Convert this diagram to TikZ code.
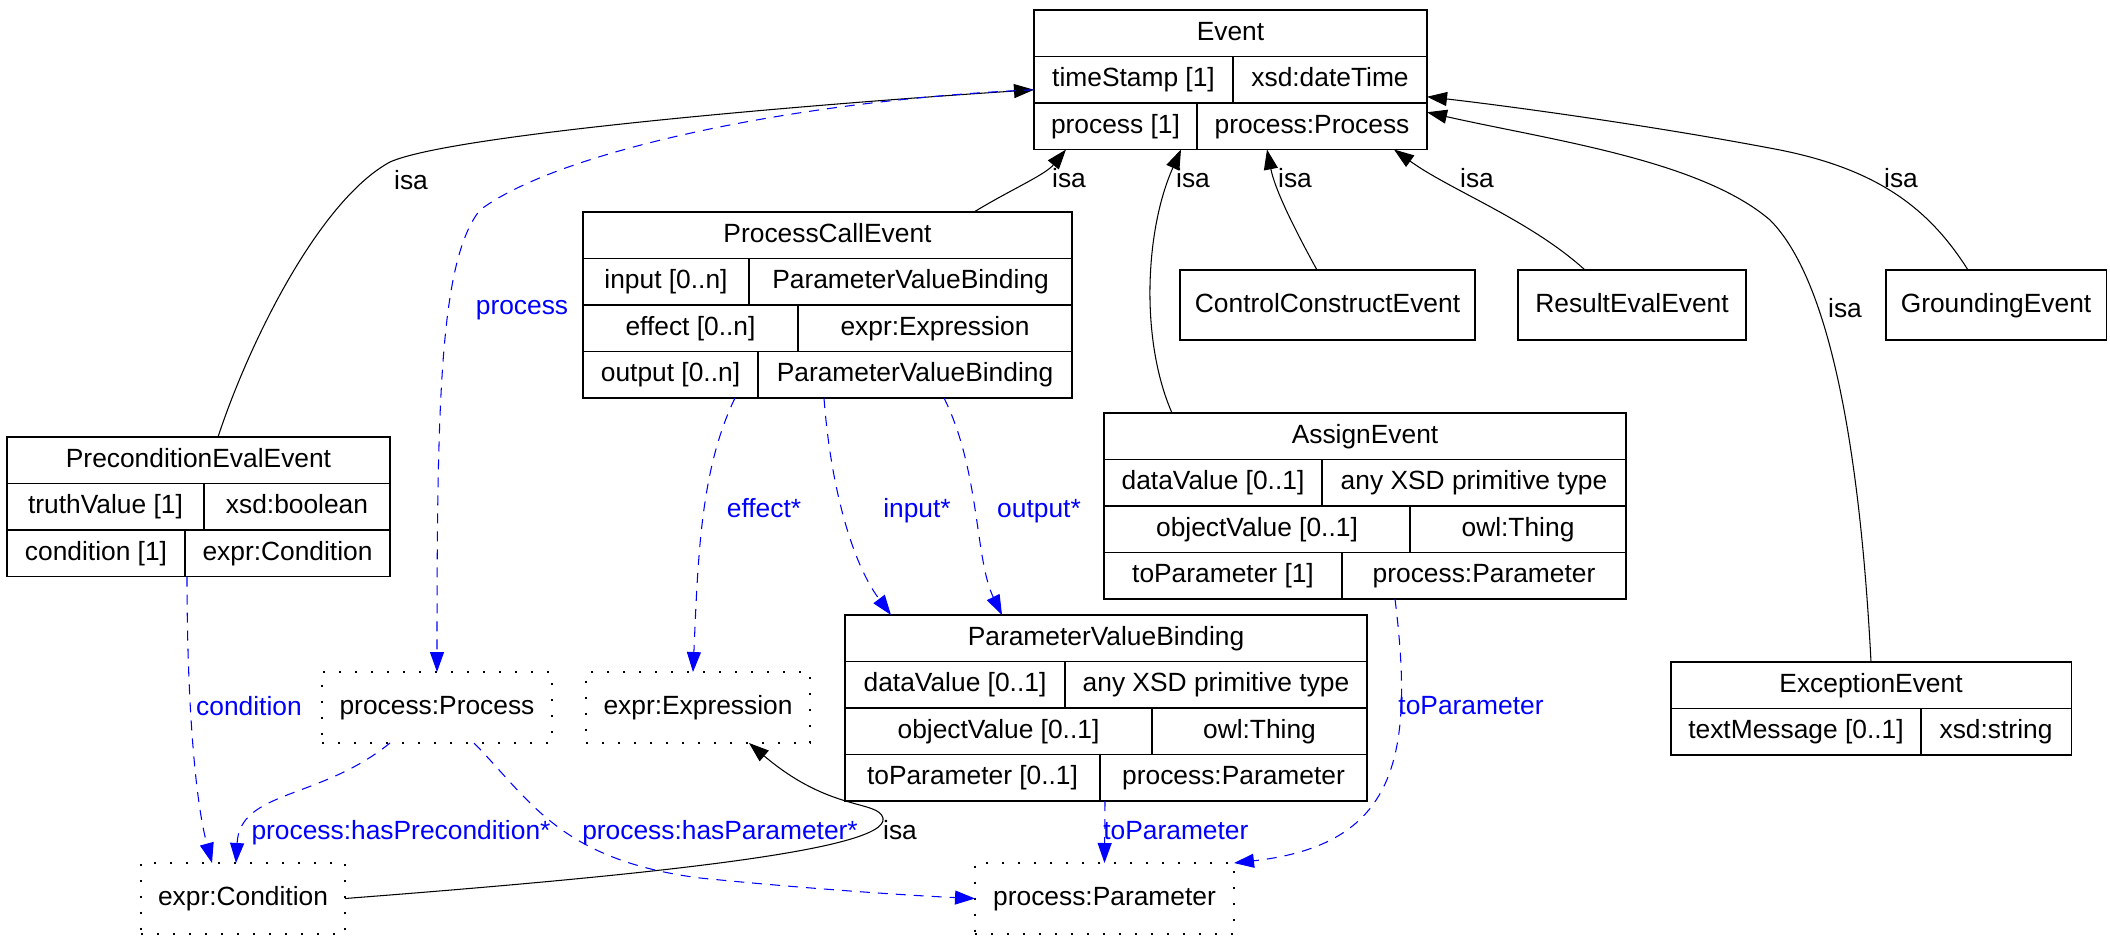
\documentclass[tikz,border=0pt]{standalone}
\usepackage{fontspec}
\setmainfont{Liberation Sans}
\usetikzlibrary{arrows.meta}

\tikzset{
  txt/.style={font=\fontsize{15}{18}\selectfont, text height=11pt, text depth=3pt, inner sep=0pt},
  wd/.style={minimum width=#1*0.2mm},
  cell/.style={txt, draw, line width=0.6pt, anchor=north west, outer sep=0pt, minimum height=46.5*0.2mm},
  box/.style={cell, minimum height=70*0.2mm},
  ext/.style={txt, draw, line width=1.1pt, dash pattern=on 1.1pt off 8pt, anchor=north west, outer sep=0pt, minimum height=71*0.2mm},
  isa/.style={draw, line width=0.6pt, -{Triangle[length=4mm,width=2.8mm]}},
  prop/.style={draw=blue, line width=0.6pt, dash pattern=on 2mm off 1.6mm, -{Triangle[length=4mm,width=2.8mm]}},
  lbl/.style={txt},
  plbl/.style={txt, text=blue}
}

\begin{document}
\begin{tikzpicture}[x=0.2mm, y=-0.2mm]
      \useasboundingbox (0,0) rectangle (2110,935);

      \node[cell, wd=393] (ev) at (1034,10) {Event};
      \node[cell, wd=199] (ev-ts) at (1034,56.5) {timeStamp [1]};
      \node[cell, wd=194] (ev-tsT) at (1233,56.5) {xsd:dateTime};
      \node[cell, wd=163] (ev-p) at (1034,103) {process [1]};
      \node[cell, wd=230] (ev-pT) at (1197,103) {process:Process};

      \node[cell, wd=489] (pce) at (583,212) {ProcessCallEvent};
      \node[cell, wd=166] (pce-i) at (583,258.5) {input [0..n]};
      \node[cell, wd=323] (pce-iT) at (749,258.5) {ParameterValueBinding};
      \node[cell, wd=215] (pce-e) at (583,305) {effect [0..n]};
      \node[cell, wd=274] (pce-eT) at (798,305) {expr:Expression};
      \node[cell, wd=175] (pce-o) at (583,351.5) {output [0..n]};
      \node[cell, wd=314] (pce-oT) at (758,351.5) {ParameterValueBinding};

      \node[cell, wd=383] (pee) at (7,437) {PreconditionEvalEvent};
      \node[cell, wd=197] (pee-t) at (7,483.5) {truthValue [1]};
      \node[cell, wd=186] (pee-tT) at (204,483.5) {xsd:boolean};
      \node[cell, wd=178] (pee-c) at (7,530) {condition [1]};
      \node[cell, wd=205] (pee-cT) at (185,530) {expr:Condition};

      \node[cell, wd=522] (ae) at (1104,413) {AssignEvent};
      \node[cell, wd=218] (ae-d) at (1104,459.5) {dataValue [0..1]};
      \node[cell, wd=304] (ae-dT) at (1322,459.5) {any XSD primitive type};
      \node[cell, wd=306] (ae-o) at (1104,506) {objectValue [0..1]};
      \node[cell, wd=216] (ae-oT) at (1410,506) {owl:Thing};
      \node[cell, wd=238] (ae-t) at (1104,552.5) {toParameter [1]};
      \node[cell, wd=284] (ae-tT) at (1342,552.5) {process:Parameter};

      \node[cell, wd=522] (pvb) at (845,615) {ParameterValueBinding};
      \node[cell, wd=220] (pvb-d) at (845,661.5) {dataValue [0..1]};
      \node[cell, wd=302] (pvb-dT) at (1065,661.5) {any XSD primitive type};
      \node[cell, wd=307] (pvb-o) at (845,708) {objectValue [0..1]};
      \node[cell, wd=215] (pvb-oT) at (1152,708) {owl:Thing};
      \node[cell, wd=255] (pvb-t) at (845,754.5) {toParameter [0..1]};
      \node[cell, wd=267] (pvb-tT) at (1100,754.5) {process:Parameter};

      \node[cell, wd=400] (exc) at (1671,662) {ExceptionEvent};
      \node[cell, wd=250] (exc-m) at (1671,708.5) {textMessage [0..1]};
      \node[cell, wd=150] (exc-mT) at (1921,708.5) {xsd:string};

      \node[box, wd=295] (cce) at (1180,270) {ControlConstructEvent};
      \node[box, wd=228] (ree) at (1518,270) {ResultEvalEvent};
      \node[box, wd=220] (ge) at (1886,270) {GroundingEvent};

      \node[ext, wd=230] (pp) at (322,672) {process:Process};
      \node[ext, wd=224] (ee) at (586,672) {expr:Expression};
      \node[ext, wd=204] (ec) at (141,863) {expr:Condition};
      \node[ext, wd=259] (par) at (975,863) {process:Parameter};

      % isa links
      \draw[isa] ([xshift=3.9mm]pee.north) .. controls (250,340) and (320,200) .. (390,162)
        .. controls (450,135) and (800,105) .. ([yshift=-2mm]ev-ts.west);
      \draw[isa] ([xshift=29.3mm]pce.north) .. controls (1010,190) and (1045,175) .. ([xshift=6.4mm]ev-p.south west);
      \draw[isa] ([xshift=13.6mm]ae.north west) .. controls (1140,340) and (1145,230) .. ([xshift=29.4mm]ev-p.south west);
      \draw[isa] ([xshift=-2.1mm]cce.north) .. controls (1295,230) and (1275,190) .. ([xshift=14mm]ev-pT.south west);
      \draw[isa] ([xshift=-9.4mm]ree.north) .. controls (1530,220) and (1450,190) .. ([xshift=-6.6mm]ev-pT.south east);
      \draw[isa] ([xshift=-5.6mm]ge.north) .. controls (1930,210) and (1880,170) .. (1780,150)
        .. controls (1650,125) and (1500,105) .. ([yshift=-3.4mm]ev-tsT.east);
      \draw[isa] (exc.north) .. controls (1860,450) and (1830,280) .. (1770,220)
        .. controls (1700,160) and (1550,140) .. ([yshift=2.8mm]ev-pT.east);
      \draw[isa] (ec.east) .. controls (650,875) and (890,850) .. (883,818)
        .. controls (878,800) and (830,812) .. ([xshift=-12.2mm]ee.south east);

      \node[lbl] (l-pee) at (411,182) {isa};
      \node[lbl] (l-pce) at (1069,180) {isa};
      \node[lbl] (l-ae) at (1193,180) {isa};
      \node[lbl] (l-cce) at (1295,180) {isa};
      \node[lbl] (l-ree) at (1477,180) {isa};
      \node[lbl] (l-ge) at (1901,180) {isa};
      \node[lbl] (l-exc) at (1845,310) {isa};
      \node[lbl] (l-ec) at (900,832) {isa};

      % properties
      \draw[prop] ([yshift=-2mm]ev-ts.west) .. controls (800,100) and (560,150) .. (480,210)
        .. controls (440,260) and (437,400) .. (pp.north);
      \draw[prop] ([xshift=-4.6mm]pce-o.south east) .. controls (700,470) and (698,560) .. ([xshift=-1mm]ee.north);
      \draw[prop] ([xshift=13.2mm]pce-oT.south west) .. controls (830,480) and (850,560) .. ([xshift=9.2mm]pvb.north west);
      \draw[prop] ([xshift=37.2mm]pce-oT.south west) .. controls (980,470) and (975,560) .. ([xshift=31.4mm]pvb.north west);
      \draw[prop] ([xshift=0.4mm]pee-cT.south west) .. controls (187,700) and (195,800) .. ([xshift=14.2mm]ec.north west);
      \draw[prop] ([xshift=13.6mm]pp.south west) .. controls (320,800) and (240,790) .. ([xshift=19mm]ec.north west);
      \draw[prop] ([xshift=30.4mm]pp.south west) .. controls (530,800) and (560,860) .. (700,878)
        .. controls (800,888) and (900,895) .. (par.west);
      \draw[prop] ([xshift=1mm]pvb-tT.south west) -- (par.north);
      \draw[prop] ([xshift=10.6mm]ae-tT.south west) .. controls (1415,760) and (1395,845) .. (par.north east);

      \node[plbl] (l-process) at (522,307) {process};
      \node[plbl] (l-effect) at (764,510) {effect*};
      \node[plbl] (l-input) at (917,510) {input*};
      \node[plbl] (l-output) at (1039,510) {output*};
      \node[plbl] (l-cond) at (249,708) {condition};
      \node[plbl] (l-haspre) at (401,832) {process:hasPrecondition*};
      \node[plbl] (l-haspar) at (720,832) {process:hasParameter*};
      \node[plbl, anchor=west] (l-topar1) at (1103,832) {toParameter};
      \node[plbl] (l-topar2) at (1471,707) {toParameter};
    \end{tikzpicture}
\end{document}
